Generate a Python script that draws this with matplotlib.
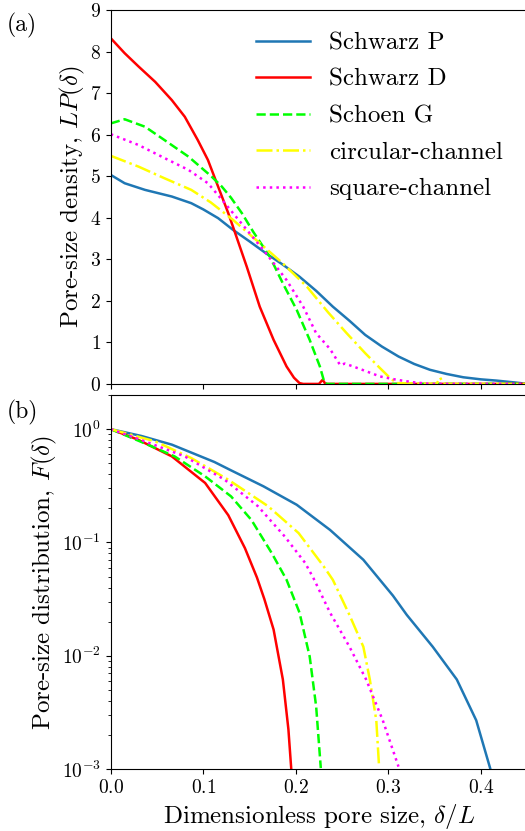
import numpy as np
import matplotlib
matplotlib.use("Agg")
import matplotlib.pyplot as plt

plt.rcParams['font.family'] = 'serif'
plt.rcParams['font.serif'] = ['cmr10']
plt.rcParams['mathtext.fontset'] = 'cm'
plt.rcParams['axes.formatter.use_mathtext'] = True

# ---- (a) pore-size density LP(delta) ----
xP = [0, 0.015, 0.037, 0.066, 0.087, 0.1, 0.116, 0.132, 0.15, 0.168, 0.186, 0.204, 0.222,
      0.24, 0.258, 0.275, 0.293, 0.311, 0.328, 0.345, 0.363, 0.381, 0.4, 0.417, 0.439, 0.45]
yP = [5.03, 4.83, 4.67, 4.51, 4.35, 4.2, 3.99, 3.71, 3.43, 3.14, 2.87, 2.58, 2.24,
      1.86, 1.52, 1.18, 0.9, 0.66, 0.48, 0.34, 0.24, 0.16, 0.11, 0.08, 0.03, 0.0]

xD = [0, 0.015, 0.03, 0.048, 0.066, 0.08, 0.094, 0.105, 0.116, 0.127, 0.132, 0.147,
      0.161, 0.176, 0.19, 0.198, 0.204, 0.208, 0.225, 0.229, 0.232, 0.45]
yD = [8.32, 7.96, 7.64, 7.27, 6.83, 6.43, 5.87, 5.39, 4.75, 4.11, 3.79, 2.82,
      1.86, 1.06, 0.42, 0.15, 0.02, 0, 0, 0.1, 0, 0]

xG = [0, 0.015, 0.037, 0.058, 0.084, 0.109, 0.12, 0.13, 0.142, 0.154, 0.172, 0.186, 0.201,
      0.215, 0.226, 0.231, 0.234, 0.45]
yG = [6.27, 6.37, 6.19, 5.87, 5.47, 4.99, 4.75, 4.48, 4.1, 3.66, 3.06, 2.42, 1.78,
      1.06, 0.42, 0.03, 0, 0]

xC = [0, 0.03, 0.058, 0.087, 0.108, 0.132, 0.161, 0.186, 0.212, 0.235, 0.255, 0.275,
      0.291, 0.302, 0.309, 0.352, 0.356, 0.36, 0.45]
yC = [5.49, 5.23, 4.95, 4.67, 4.37, 3.95, 3.39, 2.9, 2.34, 1.72, 1.22, 0.74,
      0.38, 0.14, 0.02, 0, 0.15, 0, 0]

xS = [0, 0.03, 0.055, 0.084, 0.105, 0.121, 0.147, 0.168, 0.19, 0.208, 0.222, 0.237,
      0.248, 0.253, 0.262, 0.273, 0.291, 0.309, 0.327, 0.345, 0.45]
yS = [6.01, 5.75, 5.47, 5.15, 4.83, 4.41, 3.71, 3.14, 2.5, 1.86, 1.22, 0.84,
      0.45, 0.49, 0.42, 0.33, 0.18, 0.1, 0.04, 0.0, 0]

# ---- (b) pore-size distribution F(delta) ----
fxP = [0, 0.033, 0.066, 0.112, 0.129, 0.165, 0.201, 0.237, 0.273, 0.305, 0.32, 0.348,
       0.374, 0.395, 0.41]
fP = [1.0, 0.871, 0.73, 0.513, 0.437, 0.313, 0.215, 0.129, 0.0703, 0.0339, 0.0229, 0.012,
      0.00617, 0.00269, 0.00102]

fxD = [0, 0.0295, 0.066, 0.102, 0.127, 0.145, 0.158, 0.166, 0.176, 0.186, 0.192, 0.195]
fD = [1.0, 0.807, 0.575, 0.335, 0.174, 0.0891, 0.049, 0.0316, 0.017, 0.00617, 0.00224, 0.00102]

fxG = [0, 0.04, 0.069, 0.102, 0.13, 0.152, 0.174, 0.19, 0.204, 0.215, 0.222, 0.227]
fG = [1.0, 0.73, 0.575, 0.383, 0.255, 0.158, 0.0805, 0.0468, 0.024, 0.00984, 0.00355, 0.00102]

fxC = [0, 0.048, 0.087, 0.127, 0.17, 0.203, 0.23, 0.24, 0.258, 0.273, 0.28, 0.287, 0.29]
fC = [1.0, 0.78, 0.556, 0.358, 0.209, 0.121, 0.0617, 0.0468, 0.0229, 0.012, 0.00617,
      0.00269, 0.00105]

fxS = [0, 0.037, 0.08, 0.123, 0.159, 0.188, 0.21, 0.219, 0.237, 0.258, 0.276, 0.294, 0.311]
fS = [1.0, 0.78, 0.575, 0.358, 0.209, 0.113, 0.0661, 0.0485, 0.024, 0.012, 0.00617,
      0.00269, 0.00105]

labels = ['Schwarz P', 'Schwarz D', 'Schoen G', 'circular-channel', 'square-channel']
colors = ['#1f77b4', 'red', 'lime', 'yellow', 'magenta']
styles = ['-', '-', '--', '-.', ':']

fig = plt.figure(figsize=(5.25, 8.31), dpi=100)
ax1 = fig.add_axes([0.211, 0.538, 0.793, 0.450])
ax2 = fig.add_axes([0.211, 0.0746, 0.793, 0.450])

dens = [(xP, yP), (xD, yD), (xG, yG), (xC, yC), (xS, yS)]
dist = [(fxP, fP), (fxD, fD), (fxG, fG), (fxC, fC), (fxS, fS)]

for (x, y), lab, c, ls in zip(dens, labels, colors, styles):
    ax1.plot(x, y, color=c, ls=ls, lw=1.8, label=lab)
for (x, y), c, ls in zip(dist, colors, styles):
    ax2.plot(x, y, color=c, ls=ls, lw=1.8)

ax1.set_xlim(0, 0.45)
ax1.set_ylim(0, 9)
ax1.set_yticks(range(10))
ax1.set_xticks([0, 0.1, 0.2, 0.3, 0.4])
ax1.set_xticklabels([])
ax1.set_ylabel(r'Pore-size density, $LP(\delta)$', fontsize=18, labelpad=2)
ax1.legend(loc='upper right', bbox_to_anchor=(0.966, 0.968), frameon=False, fontsize=18,
           handlelength=2.16, handletextpad=0.76, borderaxespad=0, labelspacing=0.56)

ax2.set_yscale('log')
ax2.set_xlim(0, 0.45)
ax2.set_ylim(1e-3, 2)
ax2.set_xticks([0, 0.1, 0.2, 0.3, 0.4])
ax2.set_xlabel(r'Dimensionless pore size, $\delta/L$', fontsize=18)
ax2.set_ylabel(r'Pore-size distribution, $F(\delta)$', fontsize=18, labelpad=2)

for ax in (ax1, ax2):
    ax.tick_params(labelsize=14)

fig.text(0.012, 0.969, '(a)', fontsize=17, va='center')
fig.text(0.012, 0.504, '(b)', fontsize=17, va='center')

fig.savefig('out.png', dpi=100)
